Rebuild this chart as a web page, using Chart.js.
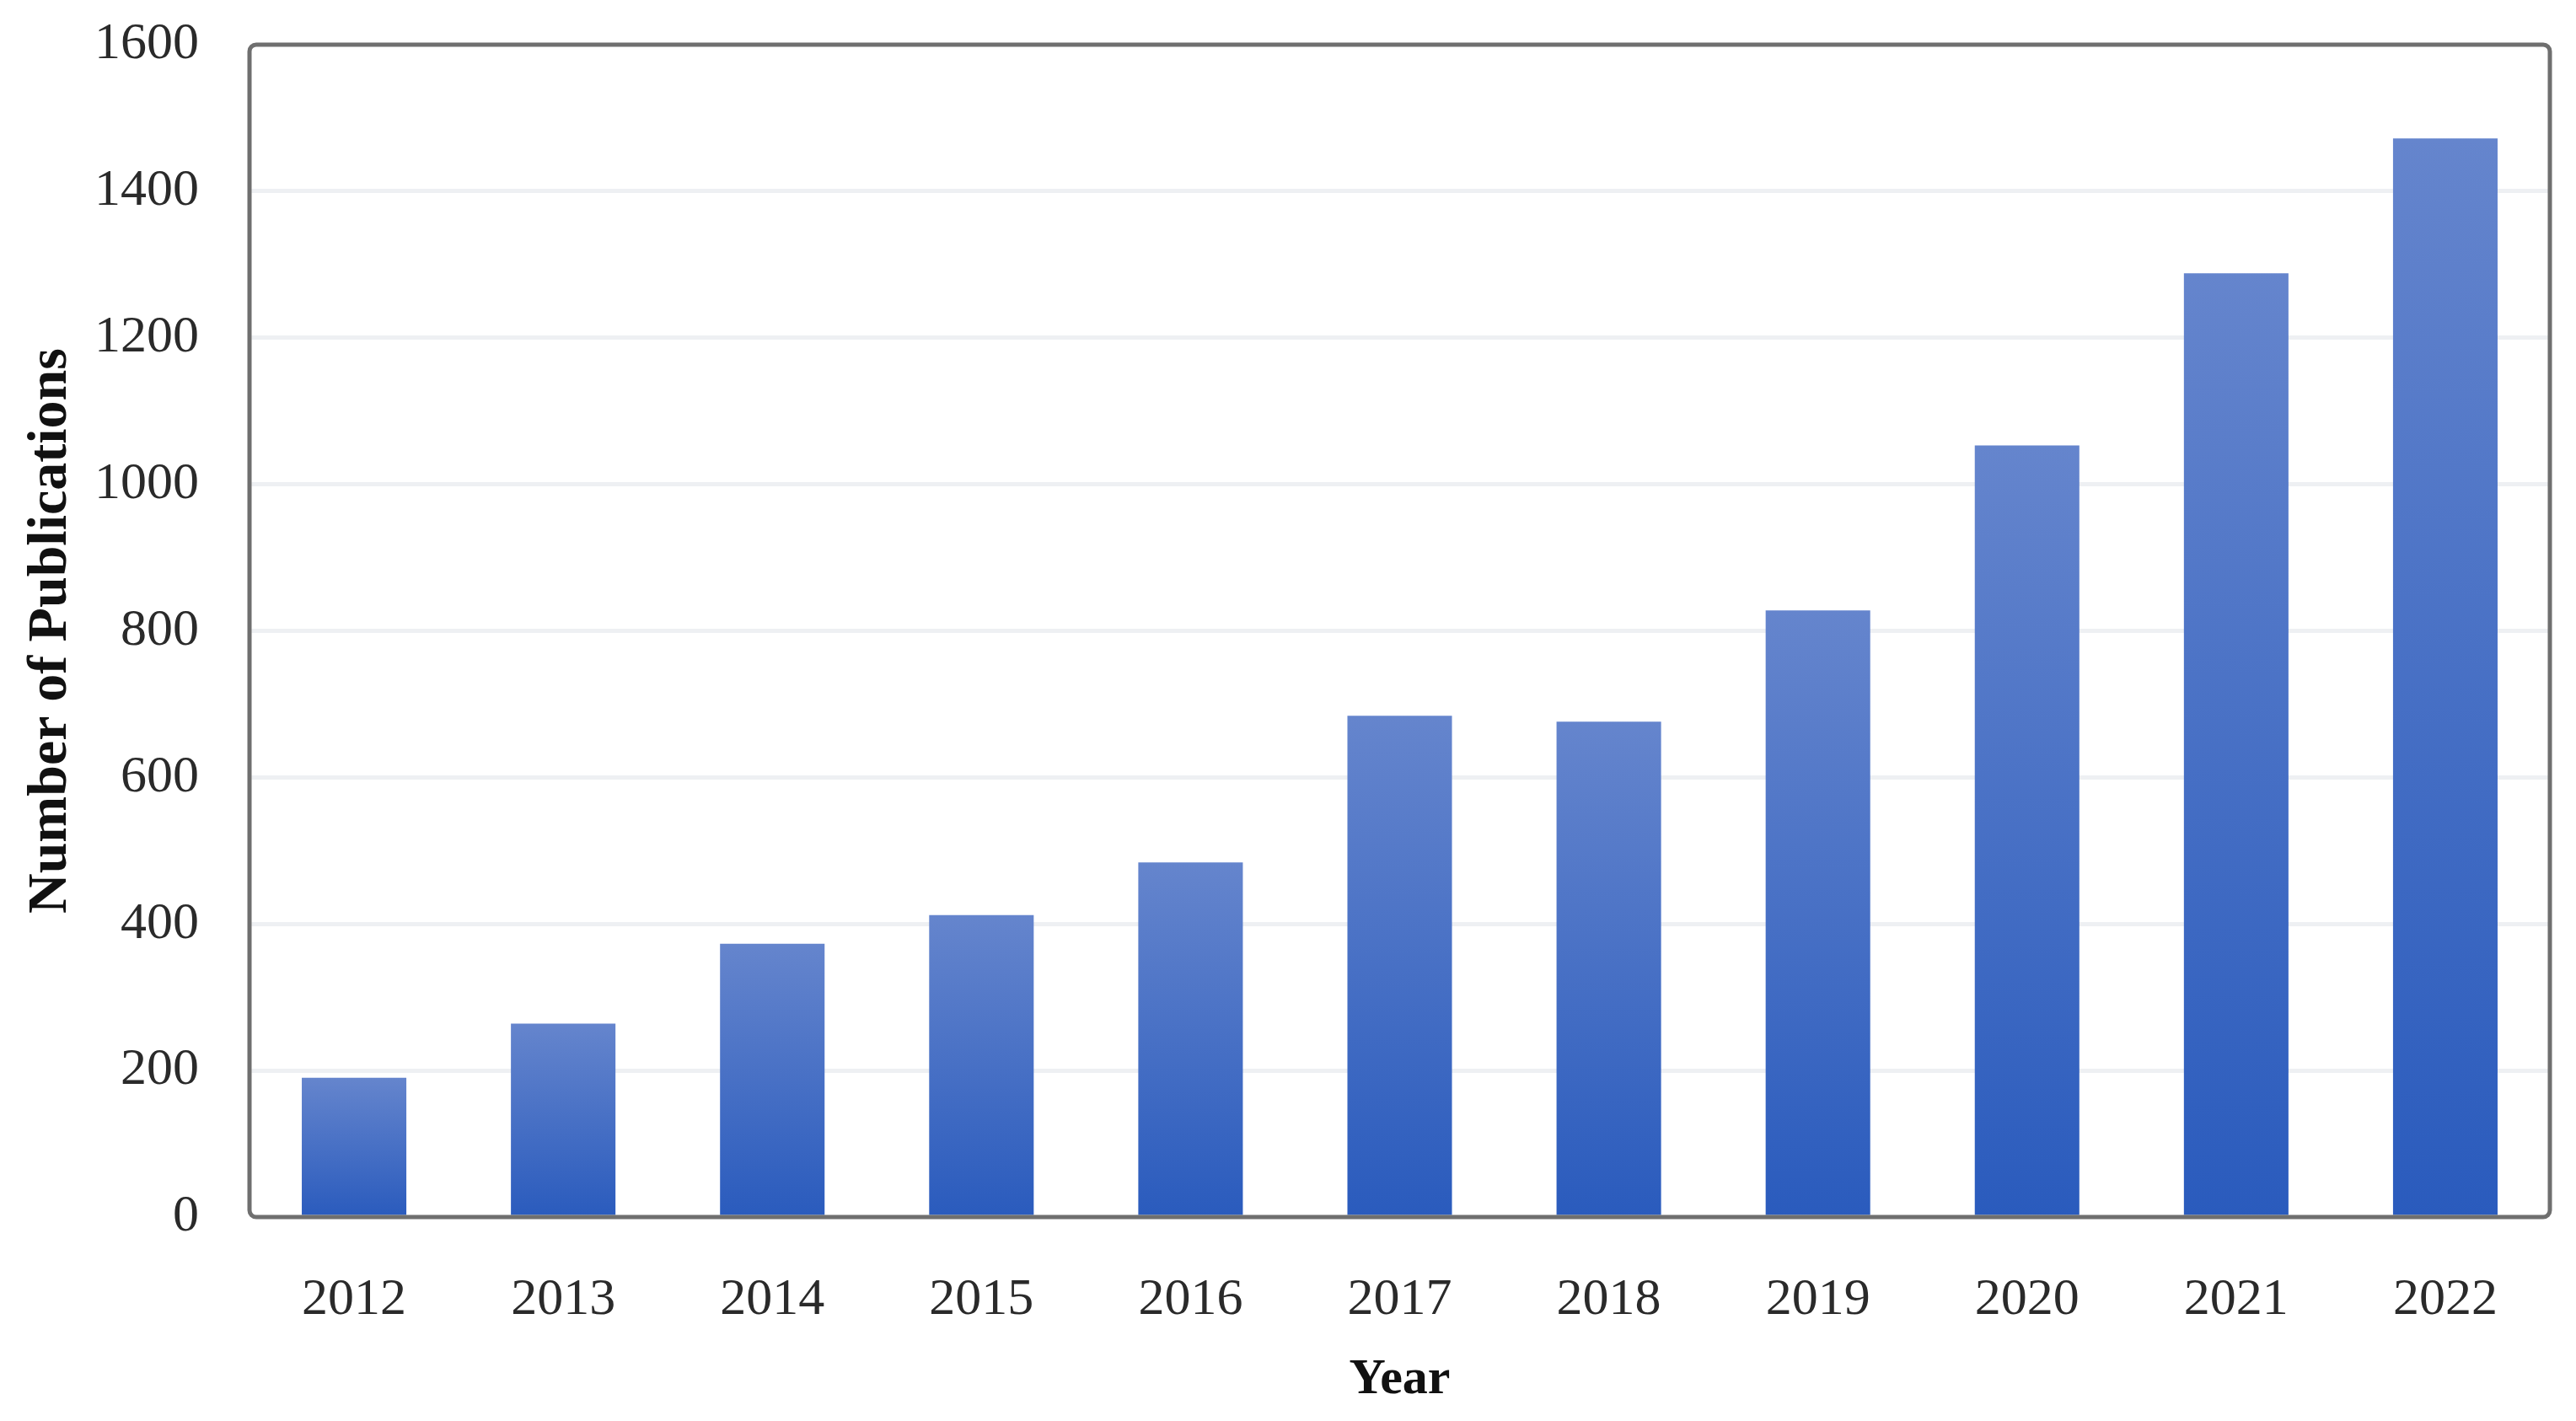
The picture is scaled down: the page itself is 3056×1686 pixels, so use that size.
<!DOCTYPE html>
<html>
<head>
<meta charset="utf-8">
<script src="https://cdn.jsdelivr.net/npm/chart.js@4/dist/chart.umd.min.js"></script>
<style>
html,body{margin:0;padding:0;background:#fff;}
#wrap{width:3056px;height:1686px;}
</style>
</head>
<body>
<div id="wrap"><canvas id="pubChart" width="3056" height="1686"></canvas></div>
<script>

/* ===============================
   DATA
=============================== */

const years = ["2012","2013","2014","2015","2016","2017","2018","2019","2020","2021","2022"];
const publications = [190,264,373,412,484,684,676,828,1053,1288,1472];
const yTicks = [0,200,400,600,800,1000,1200,1400,1600];


/* ===============================
   BAR GRADIENT (per bar, light top -> dark bottom)
=============================== */

function barGradient(ctx){
const chart = ctx.chart;
if(!chart.chartArea || !chart.scales.y) return "#4a72c8";
const y = chart.scales.y;
const top = y.getPixelForValue(ctx.raw);
const bottom = y.getPixelForValue(0);
const g = chart.ctx.createLinearGradient(0,top,0,bottom);
g.addColorStop(0,"#6585cd");
g.addColorStop(1,"#2a5bbd");
return g;
}


/* ===============================
   FRAME AROUND PLOT AREA
=============================== */

const framePlugin = {
id:"frame",
afterDatasetsDraw(chart){
const a = chart.chartArea;
const c = chart.ctx;
c.save();
c.strokeStyle = "#6f6f6f";
c.lineWidth = 5;
c.beginPath();
c.roundRect(a.left,a.top,a.right-a.left,a.bottom-a.top,8);
c.stroke();
c.restore();
}
};


/* ===============================
   CHART
=============================== */

new Chart(document.getElementById("pubChart"),{
type:"bar",
data:{
labels:years,
datasets:[{
label:"Number of Publications",
data:publications,
backgroundColor:barGradient,
borderWidth:0,
barPercentage:0.5,
categoryPercentage:1
}]
},
options:{
responsive:false,
animation:false,
layout:{ padding:{ left:0, right:31, top:53, bottom:0 } },
plugins:{
legend:{ display:false },
tooltip:{ enabled:false }
},
scales:{
x:{
grid:{ display:false, drawTicks:false },
border:{ display:false },
ticks:{
color:"#2a2a2a",
padding:62,
font:{ family:"'Liberation Serif', serif", size:62 }
},
title:{
display:true,
text:"Year",
color:"#111",
padding:{ top:0, bottom:13 },
font:{ family:"'Liberation Serif', serif", size:60, weight:"bold" }
},
afterFit(scale){ scale.height = 242; scale.paddingLeft = 0; scale.paddingRight = 0; }
},
y:{
min:0,
max:1600,
afterBuildTicks(scale){ scale.ticks = yTicks.map(v=>({value:v})); },
grid:{
drawTicks:false,
lineWidth:5,
color(ctx){
const v = ctx.tick ? ctx.tick.value : 0;
return (v===0 || v===1600) ? "rgba(0,0,0,0)" : "#eef0f3";
}
},
border:{ display:false },
ticks:{
color:"#2a2a2a",
padding:60,
callback:(v)=>String(v),
font:{ family:"'Liberation Serif', serif", size:62 }
},
title:{
display:true,
text:"Number of Publications",
color:"#111",
padding:{ top:21, bottom:0 },
font:{ family:"'Liberation Serif', serif", size:66, weight:"bold" }
},
afterFit(scale){ scale.width = 296; scale.paddingTop = 0; scale.paddingBottom = 0; }
}
}
},
plugins:[framePlugin]
});

</script>
</body>
</html>
